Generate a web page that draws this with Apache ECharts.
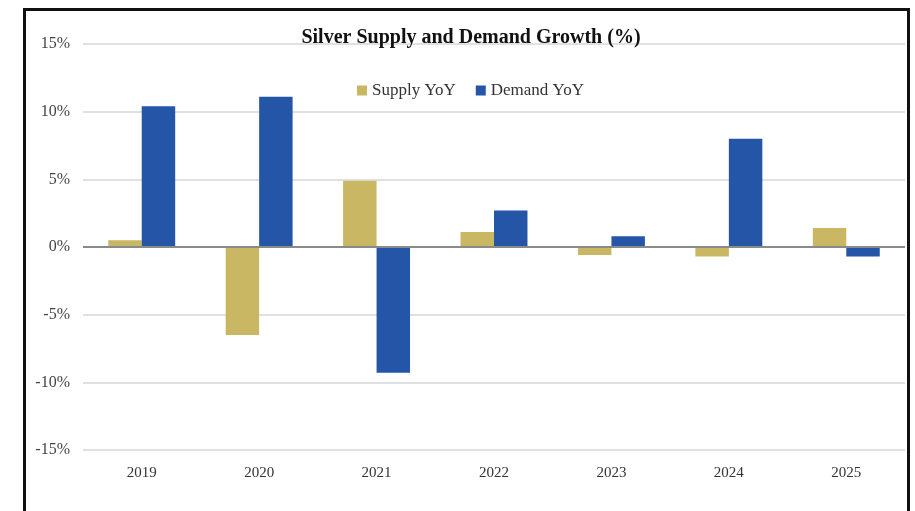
<!DOCTYPE html>
<html>
<head>
<meta charset="utf-8">
<script src="https://cdn.jsdelivr.net/npm/echarts@6/dist/echarts.min.js"></script>
<style>
  html, body { margin: 0; padding: 0; background: #fff; }
  #frame {
    position: absolute; left: 23px; top: 8px; width: 887px; height: 510px;
    border-left: 3px solid #111; border-top: 3px solid #111; border-right: 3px solid #111;
    box-sizing: border-box;
  }
  #chart { position: absolute; left: 0; top: 0; width: 915px; height: 511px; }
</style>
</head>
<body>
<div id="frame"></div>
<div id="chart"></div>
<script>
// Year-over-year growth, percent
const years = ['2019', '2020', '2021', '2022', '2023', '2024', '2025'];
const supplyYoY = [0.5, -6.5, 4.9, 1.1, -0.6, -0.7, 1.4];
const demandYoY = [10.4, 11.1, -9.3, 2.7, 0.8, 8.0, -0.7];

const serif = '"Liberation Serif", "DejaVu Serif", serif';
const chart = echarts.init(document.getElementById('chart'));

chart.setOption({
  animation: false,
  title: {
    text: 'Silver Supply and Demand Growth (%)',
    left: 466, top: 23, textAlign: 'center',
    textStyle: { fontFamily: serif, fontSize: 20, fontWeight: 'bold', color: '#111', letterSpacing: -0.3 }
  },
  legend: {
    data: ['Supply YoY', 'Demand YoY'],
    left: 352, top: 77,
    itemWidth: 10, itemHeight: 10, itemGap: 20,
    icon: 'rect',
    textStyle: { fontFamily: serif, fontSize: 17, color: '#333' }
  },
  grid: { left: 83, right: 10, top: 44, bottom: 61, containLabel: false },
  xAxis: {
    type: 'category',
    data: years,
    axisLine: { show: false, onZero: false },
    axisTick: { show: false },
    axisLabel: { fontFamily: serif, fontSize: 15, color: '#333', margin: 16 }
  },
  yAxis: {
    type: 'value',
    min: -15, max: 15, interval: 5,
    axisLine: { show: false },
    axisTick: { show: false },
    axisLabel: { formatter: '{value}%', fontFamily: serif, fontSize: 16, color: '#444', margin: 13 },
    splitLine: { lineStyle: { color: '#d6d6d6', width: 1.5 } }
  },
  series: [
    {
      name: 'Supply YoY', type: 'bar', data: supplyYoY,
      barGap: '0%', barCategoryGap: '43%',
      itemStyle: { color: '#c9b763' },
      markLine: {
        silent: true, symbol: 'none', label: { show: false },
        lineStyle: { color: '#8a8a8a', width: 2, type: 'solid' },
        data: [{ yAxis: 0 }]
      }
    },
    {
      name: 'Demand YoY', type: 'bar', data: demandYoY,
      barGap: '0%', barCategoryGap: '43%',
      itemStyle: { color: '#2455a6' }
    }
  ]
});
</script>
</body>
</html>
